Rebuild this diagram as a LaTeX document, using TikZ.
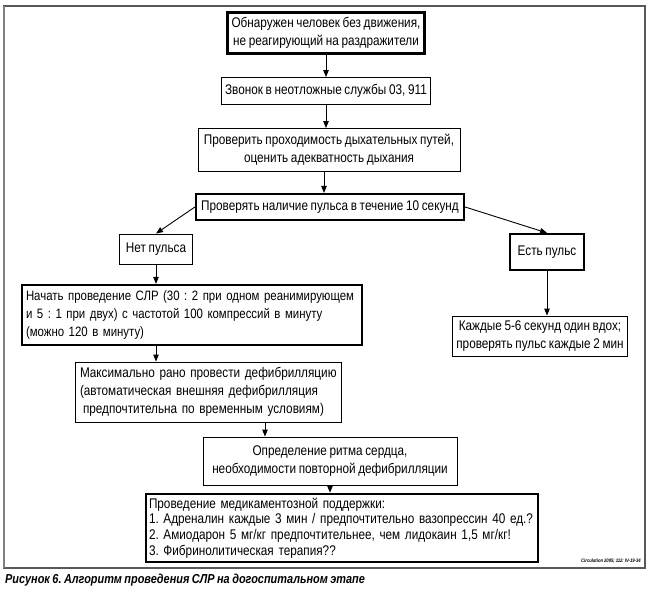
\documentclass[tikz,border=0pt]{standalone}
\usepackage{fontspec}
\setmainfont{Liberation Sans}[FakeStretch=0.84, WordSpace=0.82]
\usetikzlibrary{arrows.meta}
\definecolor{framec}{gray}{0.35}
\frenchspacing
\tikzset{
  box/.style={draw=black, fill=white, inner sep=4pt, font=\fontsize{14}{18}\selectfont\frenchspacing, align=center},
  thinbox/.style={box, line width=0.9pt},
  thickbox/.style={box, line width=2.2pt},
  arr/.style={draw=black, line width=0.9pt, -{Triangle[length=7pt,width=5.5pt]}},
}
\begin{document}
\begin{tikzpicture}[x=1pt,y=-1pt]
\useasboundingbox (0,0) rectangle (650,591);
\fill[white] (0,0) rectangle (650,591);
\draw[framec, line width=1.1pt] (4,6) rectangle (645,568);
\draw[gray, line width=1.6pt] (4,6) -- (4,568);

\node[thickbox, minimum width=196pt, minimum height=41pt] (b1) at (326,33)
  {Обнаружен человек без движения,\\ не реагирующий на раздражители};
\node[thinbox, minimum width=208pt, minimum height=27pt] (b2) at (326,91)
  {Звонок в неотложные службы 03, 911};
\node[thinbox, minimum width=262pt, minimum height=43pt] (b3) at (329,150)
  {Проверить проходимость дыхательных путей,\\ оценить адекватность дыхания};
\node[thickbox, minimum width=268pt, minimum height=26pt] (b4) at (330,207)
  {Проверять наличие пульса в течение 10 секунд};
\node[thinbox, minimum width=73pt, minimum height=30pt] (no) at (156,249)
  {Нет пульса};
\node[thickbox, minimum width=74pt, minimum height=36pt] (yes) at (547,252)
  {Есть пульс};
\node[thickbox, inner xsep=4pt, text width=332pt, align=left, minimum height=60pt,
      font=\fontsize{13.6}{18}\selectfont\frenchspacing] (cpr) at (192,315)
  {\mbox{Начать проведение СЛР (30 : 2 при одном реанимирующем}\\ \mbox{и 5 : 1 при двух) с частотой 100 компрессий в минуту}\\ \mbox{(можно 120 в минуту)}};
\node[thinbox, minimum width=172pt, minimum height=40pt] (each) at (540,336)
  {Каждые 5-6 секунд один вдох;\\ проверять пульс каждые 2 мин};
\node[thinbox, inner xsep=5pt, text width=256pt, align=left, minimum height=60pt] (defib) at (208,392)
  {\mbox{Максимально рано провести дефибрилляцию}\\ \mbox{(автоматическая внешняя дефибрилляция}\\ \mbox{\hspace*{3pt}предпочтительна по временным условиям)}};
\node[thinbox, minimum width=254pt, minimum height=48pt] (rhythm) at (330,461)
  {Определение ритма сердца,\\ необходимости повторной дефибрилляции};
\node[thickbox, inner xsep=3pt, text width=386pt, align=left, minimum height=64pt,
      font=\fontsize{14}{15.7}\selectfont\frenchspacing] (drugs) at (342,528)
  {\mbox{Проведение медикаментозной поддержки:}\\ \mbox{1. Адреналин каждые 3 мин / предпочтительно вазопрессин 40 ед.?}\\ \mbox{2. Амиодарон 5 мг/кг предпочтительнее, чем лидокаин 1,5 мг/кг!}\\ \mbox{3. Фибринолитическая терапия??}};

\node[anchor=east, inner sep=0pt, font=\fontsize{5}{6}\selectfont\bfseries\itshape] (cit) at (641,561)
  {Circulation 2005; 112: IV-19-34};
\node[anchor=west, inner sep=0pt, font=\fontsize{13}{15}\selectfont\bfseries\itshape] (cap) at (5,580)
  {Рисунок 6. Алгоритм проведения СЛР на догоспитальном этапе};

\coordinate (c1) at (324,0);
\coordinate (c3) at (265,0);

\draw[arr] (b1.south) -- (b2.north);
\draw[arr] (b2.south) -- (b2.south |- b3.north);
\draw[arr] (b3.south -| c1) -- (b4.north -| c1);
\draw[arr] (b4.west) -- (no.north);
\draw[arr] (b4.east) -- (yes.north);
\draw[arr] (no.south) -- (no.south |- cpr.north);
\draw[arr] (cpr.south -| no.south) -- (defib.north -| no.south);
\draw[arr] (yes.south) -- (yes.south |- each.north);
\draw[arr] (defib.south -| c3) -- (rhythm.north -| c3);
\draw[arr] (rhythm.south) -- (rhythm.south |- drugs.north);
\end{tikzpicture}
\end{document}
